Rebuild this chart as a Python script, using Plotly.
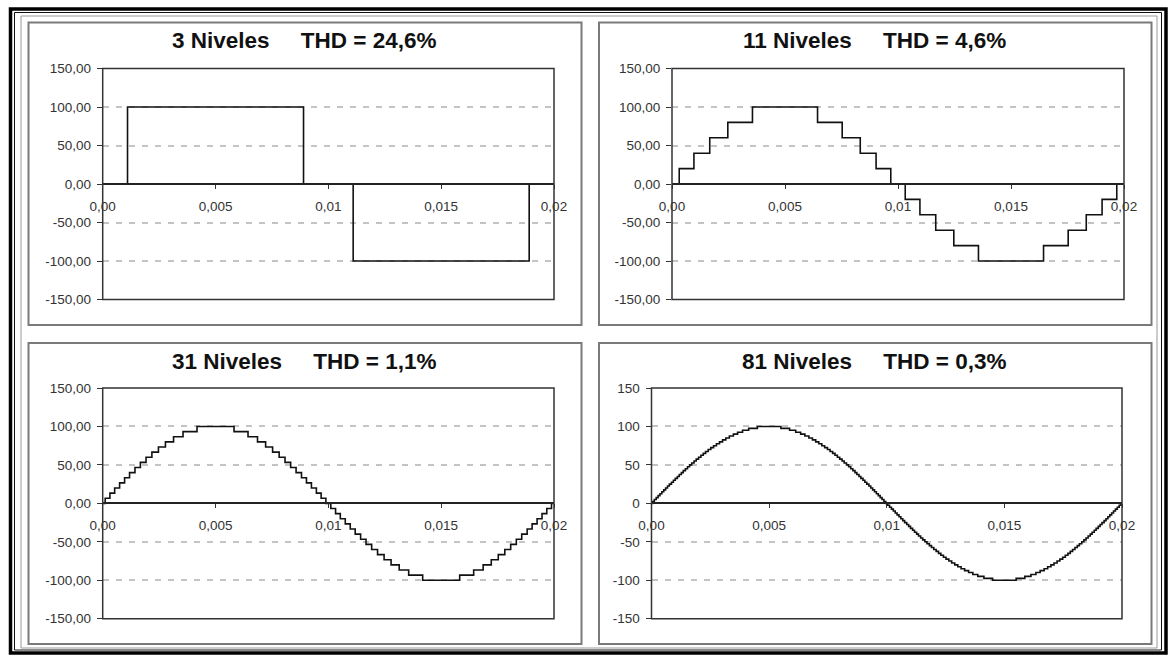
import plotly.graph_objects as go

W, H = 1170, 655
PERIOD = 0.02
AMPLITUDE = 100

# ---------------- data ----------------
titles = ["3 Niveles", "11 Niveles", "31 Niveles", "81 Niveles"]
thd_labels = ["THD = 24,6%", "THD = 4,6%", "THD = 1,1%", "THD = 0,3%"]
level_counts = [3, 11, 31, 81]

# quarter-wave switching instants (s) read from the staircase steps
switch_3 = [0.0011]
switch_11 = [0.00032, 0.00097, 0.00167, 0.00247, 0.00356]
switch_31 = [0.00011, 0.00032, 0.00053, 0.00075, 0.00097, 0.00119, 0.00143,
             0.00167, 0.00192, 0.00218, 0.00247, 0.00278, 0.00314, 0.00356,
             0.00418]
switch_81 = [0.00004, 0.00012, 0.00020, 0.00028, 0.00036, 0.00044, 0.00052,
             0.00060, 0.00068, 0.00076, 0.00085, 0.00093, 0.00101, 0.00110,
             0.00118, 0.00127, 0.00135, 0.00144, 0.00153, 0.00162, 0.00171,
             0.00181, 0.00190, 0.00200, 0.00210, 0.00220, 0.00230, 0.00241,
             0.00252, 0.00264, 0.00276, 0.00289, 0.00302, 0.00316, 0.00331,
             0.00348, 0.00366, 0.00387, 0.00413, 0.00450]
switch_sets = [switch_3, switch_11, switch_31, switch_81]

x_tickvals = [0, 0.005, 0.01, 0.015, 0.02]
x_ticktext = ["0,00", "0,005", "0,01", "0,015", "0,02"]
y_tickvals = [150, 100, 50, 0, -50, -100, -150]
y_ticktext_dec = ["150,00", "100,00", "50,00", "0,00", "-50,00", "-100,00", "-150,00"]
y_ticktext_int = ["150", "100", "50", "0", "-50", "-100", "-150"]
y_ticktexts = [y_ticktext_dec, y_ticktext_dec, y_ticktext_dec, y_ticktext_int]


def staircase(switches, levels):
    """Build one period of the quarter-wave symmetric staircase."""
    n = (levels - 1) // 2
    step = AMPLITUDE / n
    half = PERIOD / 2
    xs, ys = [0.0], [0.0]
    idx = list(enumerate(switches, 1))
    for k, t in idx:
        xs.append(t); ys.append(k * step)
    for k, t in reversed(idx):
        xs.append(half - t); ys.append((k - 1) * step)
    for k, t in idx:
        xs.append(half + t); ys.append(-k * step)
    for k, t in reversed(idx):
        xs.append(PERIOD - t); ys.append(-(k - 1) * step)
    xs.append(PERIOD); ys.append(0.0)
    return xs, ys


# ---------------- layout geometry (pixels) ----------------
plot_x = [(102.7, 554.0), (672.0, 1124.0), (102.7, 554.0), (651.5, 1122.0)]
plot_y = [(68.5, 299.5), (68.5, 299.5), (388.0, 618.7), (388.0, 618.7)]
panel_boxes = [(28.5, 22.5, 581.5, 325.0), (599.0, 22.5, 1151.5, 325.0),
               (28.5, 343.0, 581.5, 644.0), (599.0, 343.0, 1151.5, 644.0)]
title_pos = [(304.5, 41.0), (874.0, 41.0), (304.5, 361.5), (874.0, 361.5)]


def px(x):
    return x / W


def py(y):
    return 1 - y / H


FONT = "Liberation Sans, Arial, sans-serif"

fig = go.Figure()
layout = dict(
    width=W, height=H, autosize=False,
    margin=dict(l=0, r=0, t=0, b=0, pad=0, autoexpand=False),
    paper_bgcolor="white", plot_bgcolor="white",
    showlegend=False,
    font=dict(family=FONT, color="#222"),
)
shapes = []
annotations = []

for i in range(4):
    sfx = "" if i == 0 else str(i + 1)
    xs, ys = staircase(switch_sets[i], level_counts[i])
    fig.add_trace(go.Scatter(
        x=xs, y=ys, mode="lines", line_shape="hv",
        line=dict(color="#111", width=1.6),
        xaxis="x" + sfx, yaxis="y" + sfx, hoverinfo="skip",
    ))
    ydom = [py(plot_y[i][1]), py(plot_y[i][0])]
    xdom = [px(plot_x[i][0]), px(plot_x[i][1])]
    layout["xaxis" + sfx] = dict(
        domain=xdom, range=[0, PERIOD], anchor="free",
        position=(ydom[0] + ydom[1]) / 2,
        tickvals=x_tickvals, ticktext=x_ticktext,
        ticks="outside", ticklen=4, tickwidth=1.2, tickcolor="#333",
        showline=True, linecolor="#222", linewidth=1.5,
        showgrid=False, zeroline=False, automargin=False,
        tickfont=dict(family=FONT, size=13.5, color="#333"),
        ticklabelstandoff=6,
        fixedrange=True,
    )
    layout["yaxis" + sfx] = dict(
        domain=ydom, range=[-150, 150], anchor="x" + sfx,
        tickvals=y_tickvals, ticktext=y_ticktexts[i],
        ticks="outside", ticklen=5, tickwidth=1.2, tickcolor="#333",
        showline=False, zeroline=False, automargin=False,
        showgrid=True, gridcolor="#c4c4c4", gridwidth=1.5, griddash="6px,7px",
        tickfont=dict(family=FONT, size=13.5, color="#333"),
        ticklabelstandoff=3,
        fixedrange=True,
    )
    # plot-area frame
    shapes.append(dict(type="rect", xref="x" + sfx + " domain", yref="y" + sfx + " domain",
                       x0=0, x1=1, y0=0, y1=1, line=dict(color="#333", width=1.5),
                       layer="above"))
    # panel box
    bx0, by0, bx1, by1 = panel_boxes[i]
    shapes.append(dict(type="rect", xref="paper", yref="paper",
                       x0=px(bx0), x1=px(bx1), y0=py(by1), y1=py(by0),
                       line=dict(color="#7a7a7a", width=2)))
    tx, ty = title_pos[i]
    annotations.append(dict(
        xref="paper", yref="paper", x=px(tx), y=py(ty),
        xanchor="center", yanchor="middle", showarrow=False,
        text="<b>" + titles[i] + "\u00a0" * 5 + thd_labels[i] + "</b>",
        font=dict(family=FONT, size=22.5, color="#111"),
    ))

# outer frames
shapes.append(dict(type="rect", xref="paper", yref="paper",
                   x0=px(10.5), x1=px(1166.0), y0=py(653.0), y1=py(9.0),
                   line=dict(color="black", width=3.5)))
shapes.append(dict(type="rect", xref="paper", yref="paper",
                   x0=px(14.5), x1=px(1161.5), y0=py(650.0), y1=py(12.5),
                   line=dict(color="#111", width=1)))
shapes.append(dict(type="rect", xref="paper", yref="paper",
                   x0=px(21.0), x1=px(1157.0), y0=py(648.0), y1=py(16.0),
                   line=dict(color="#9a9a9a", width=1)))

layout["shapes"] = shapes
layout["annotations"] = annotations
fig.update_layout(**layout)

page_fix = ("}); document.documentElement.style.margin='0px'; "
            "document.body.style.margin='0px'; "
            "document.documentElement.style.overflow='hidden'; (function(){")

fig.write_html("out.html", config={"displayModeBar": False}, post_script=page_fix)
